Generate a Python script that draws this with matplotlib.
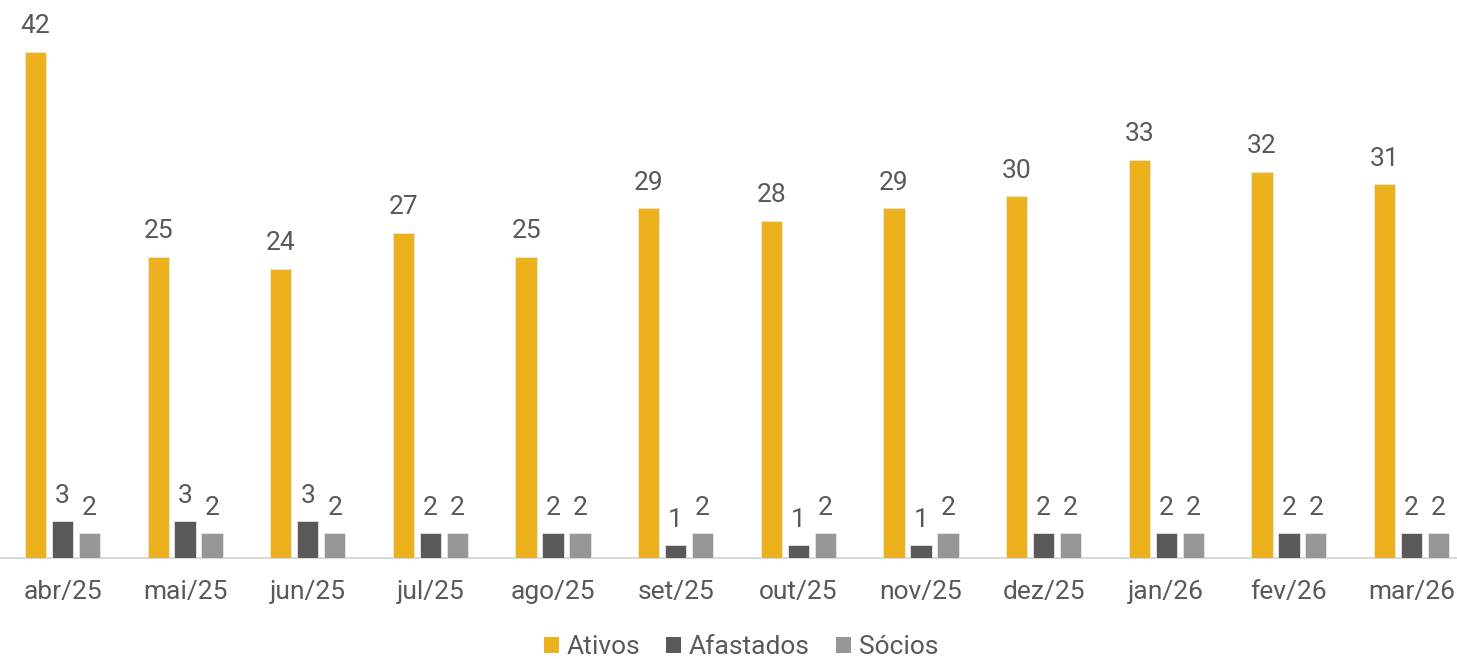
import matplotlib.pyplot as plt
import numpy as np

plt.rcParams['font.family'] = ['Roboto', 'DejaVu Sans']

meses = ['abr/25', 'mai/25', 'jun/25', 'jul/25', 'ago/25', 'set/25',
         'out/25', 'nov/25', 'dez/25', 'jan/26', 'fev/26', 'mar/26']
ativos = [42, 25, 24, 27, 25, 29, 28, 29, 30, 33, 32, 31]
afastados = [3, 3, 3, 2, 2, 1, 1, 1, 2, 2, 2, 2]
socios = [2, 2, 2, 2, 2, 2, 2, 2, 2, 2, 2, 2]

series = [('Ativos', ativos, '#EDB11E'),
          ('Afastados', afastados, '#595959'),
          ('Sócios', socios, '#969696')]

W, H = 1457, 659
fig = plt.figure(figsize=(W / 100, H / 100), dpi=100)
# eixo vai um pouco além da borda direita, como no original
left, right, bottom, top = 1.2, 1472.8, 557.5, 0
ax = fig.add_axes([left / W, (H - bottom) / H, (right - left) / W, (bottom - top) / H])

x = np.arange(len(meses))
largura = 0.174
passo = 0.22
texto = '#595959'
fs = 19

for i, (nome, vals, cor) in enumerate(series):
    pos = x + (i - 1) * passo
    ax.bar(pos, vals, largura, color=cor, label=nome,
           edgecolor='#E6E6E6', linewidth=0.6, zorder=3)
    for xi, v in zip(pos, vals):
        ax.annotate(str(v), (xi, v), xytext=(0, 10), textcoords='offset points',
                    ha='center', va='bottom', fontsize=fs, color=texto)

ax.set_xlim(-0.5, len(meses) - 0.5)
ax.set_ylim(0, 557.5 / (505.5 / 42))
ax.set_xticks(x)
ax.set_xticklabels(meses, fontsize=fs, color=texto)
ax.tick_params(axis='x', length=0, pad=16)
ax.set_yticks([])
for s in ['top', 'right', 'left']:
    ax.spines[s].set_visible(False)
ax.spines['bottom'].set_color('#D9D9D9')
ax.spines['bottom'].set_linewidth(1.5)

leg = fig.legend(loc='center', bbox_to_anchor=(741 / W, 1 - 647 / H), ncol=3,
                 frameon=False, fontsize=fs, handlelength=0.55, handleheight=0.55,
                 handletextpad=0.3, columnspacing=1.0, labelcolor=texto)
for h in leg.legend_handles:
    h.set_edgecolor('none')

fig.savefig('out.png', dpi=100)
